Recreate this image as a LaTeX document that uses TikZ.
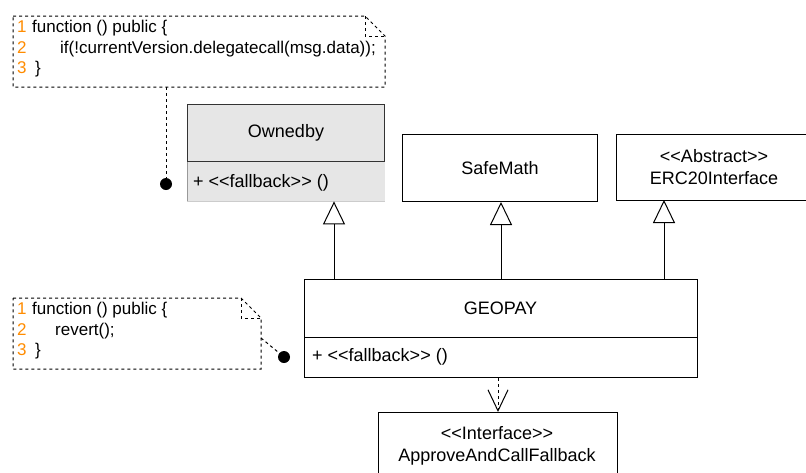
\documentclass[tikz,border=0pt]{standalone}
\usepackage{fontspec}
\setmainfont{Liberation Sans}
\usetikzlibrary{arrows.meta,calc}
\definecolor{codeorange}{RGB}{255,140,0}
\definecolor{boxgray}{RGB}{230,230,230}
\definecolor{darkline}{RGB}{51,51,51}
\begin{document}
\begin{tikzpicture}[x=1pt,y=-1pt,
  every node/.style={font=\fontsize{18}{21.5}\selectfont, text=black},
  umlbox/.style={draw=black, line width=1pt, inner sep=0pt, anchor=north west},
  notedash/.style={draw=black, line width=1pt, dash pattern=on 3pt off 3pt},
  inherit/.style={draw=black, line width=1pt, -{Triangle[open,length=23pt,width=22pt]}},
  depend/.style={draw=black, line width=1pt, dash pattern=on 3pt off 3pt, -{Straight Barb[length=21pt,width=20pt]}},
  lnum/.style={anchor=base west, inner sep=0pt, text=codeorange, font=\fontsize{17}{20}\selectfont},
  codetxt/.style={anchor=base west, inner sep=0pt, font=\fontsize{17}{20}\selectfont},
  dot/.style={circle, fill=black, inner sep=0pt, minimum size=12pt}
]
\useasboundingbox (0,0) rectangle (806,472);
\fill[white] (0,0) rectangle (806,472);

% ---- Note 1 ----
\coordinate (n1a) at (13,16);
\coordinate (n1b) at (365,16);
\coordinate (n1c) at (385,36);
\coordinate (n1d) at (385,87);
\coordinate (n1e) at (13,87);
\coordinate (n1f) at (365,36);
\draw[notedash] (n1a) -- (n1b) -- (n1c) -- (n1d) -- (n1e) -- cycle;
\draw[notedash] (n1b) -- (n1f) -- (n1c);
\node[lnum] (n1l1) at (17,32) {1};
\node[codetxt] (n1t1) at (32,32) {function () public \{};
\node[lnum] (n1l2) at (17,53) {2};
\node[codetxt] (n1t2) at (60,53) {if(!currentVersion.delegatecall(msg.data));};
\node[lnum] (n1l3) at (17,73) {3};
\node[codetxt] (n1t3) at (35,73) {\}};
\coordinate (n1out) at (166,87);
\node[dot] (d1) at (166,184) {};
\draw[notedash] (n1out) -- (d1.center);

% ---- Note 2 ----
\coordinate (n2a) at (13,298);
\coordinate (n2b) at (241,298);
\coordinate (n2c) at (261,318);
\coordinate (n2d) at (261,369);
\coordinate (n2e) at (13,369);
\coordinate (n2f) at (241,318);
\draw[notedash] (n2a) -- (n2b) -- (n2c) -- (n2d) -- (n2e) -- cycle;
\draw[notedash] (n2b) -- (n2f) -- (n2c);
\node[lnum] (n2l1) at (17,314) {1};
\node[codetxt] (n2t1) at (32,314) {function () public \{};
\node[lnum] (n2l2) at (17,335) {2};
\node[codetxt] (n2t2) at (55,335) {revert();};
\node[lnum] (n2l3) at (17,355) {3};
\node[codetxt] (n2t3) at (35,355) {\}};
\coordinate (n2out) at (261,338);
\node[dot] (d2) at (284,357) {};
\draw[notedash] (n2out) -- (d2.center);

% ---- Ownedby ----
\node[anchor=north west, fill=boxgray, minimum width=198pt, minimum height=40pt, inner sep=0pt] (ownb) at (187,161) {};
\draw[draw=gray!80, line width=1pt] (ownb.north west) -- (ownb.south west);
\draw[draw=gray!40, line width=0.6pt] (ownb.south west) -- (ownb.south east);
\node[umlbox, draw=darkline, fill=boxgray, minimum width=197pt, minimum height=57pt] (own) at (187,104) {Ownedby};
\node[anchor=west, inner sep=0pt] (ownf) at (193,183) {+ <{}<fallback>{}> ()};

% ---- SafeMath ----
\node[umlbox, minimum width=195pt, minimum height=67pt] (safe) at (402,134) {SafeMath};

% ---- ERC20Interface (cut by right edge) ----
\draw[line width=1pt] (806,134) -- (616,134) -- (616,200) -- (806,200);
\node[align=center, inner sep=0pt] (erc) at (714,167) {<{}<Abstract>{}>\\ERC20Interface};
\coordinate (ercs) at (664,200);

% ---- GEOPAY ----
\node[umlbox, minimum width=393pt, minimum height=98pt] (geo) at (304,279) {};
\draw[line width=1pt] (304,337) -- (697,337);
\node[inner sep=0pt] (geot) at (500.5,308) {GEOPAY};
\node[anchor=west, inner sep=0pt] (geof) at (312,357) {+ <{}<fallback>{}> ()};

% ---- Interface (cut by bottom edge) ----
\draw[line width=1pt] (378,474) -- (378,412) -- (617,412) -- (617,474);
\coordinate (ifn) at (498,412);
\node[align=center, inner sep=0pt] (ift) at (497,446) {<{}<Interface>{}>\\ApproveAndCallFallback};

% ---- connectors ----
\draw[inherit] (334,0 |- geo.north) -- (334,0 |- ownb.south);
\draw[inherit] (geo.north -| 501,0) -- (501,0 |- safe.south);
\draw[inherit] (geo.north -| ercs) -- (ercs);
\draw[depend] (geo.south -| ifn) -- (ifn);
\end{tikzpicture}
\end{document}
